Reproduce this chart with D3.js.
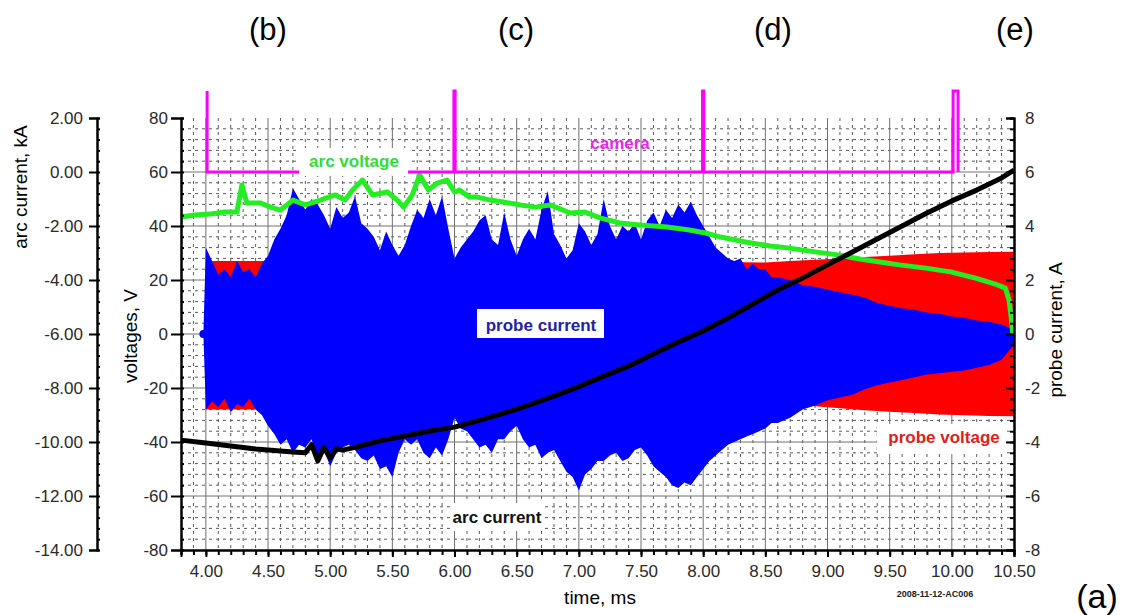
<!DOCTYPE html>
<html>
<head>
<meta charset="utf-8">
<script src="https://cdn.jsdelivr.net/npm/d3@7"></script>
<style>
  body { margin: 0; background: #fff; }
  text { font-family: "Liberation Sans", Arial, sans-serif; }
</style>
</head>
<body>
<div id="chart"></div>
<script>
// tick values
const timeTicks = [4.0, 4.5, 5.0, 5.5, 6.0, 6.5, 7.0, 7.5, 8.0, 8.5, 9.0, 9.5, 10.0, 10.5];
const voltTicks = [-80, -60, -40, -20, 0, 20, 40, 60, 80];
const arcCurTicks = [-14, -12, -10, -8, -6, -4, -2, 0, 2];
const probeTicks = [-8, -6, -4, -2, 0, 2, 4, 6, 8];
const panelLabels = ["(b)", "(c)", "(d)", "(e)"];

// probe current envelope, A (right axis)
const probeTime = [3.98,
  4.00, 4.05, 4.10, 4.15, 4.20, 4.25, 4.30, 4.35, 4.40, 4.45, 4.50, 4.55, 4.60, 4.65, 4.70, 4.75, 4.80, 4.85, 4.90, 4.95,
  5.00, 5.05, 5.10, 5.15, 5.20, 5.25, 5.30, 5.35, 5.40, 5.45, 5.50, 5.55, 5.60, 5.65, 5.70, 5.75, 5.80, 5.85, 5.90, 5.95,
  6.00, 6.05, 6.10, 6.15, 6.20, 6.25, 6.30, 6.35, 6.40, 6.45, 6.50, 6.55, 6.60, 6.65, 6.70, 6.75, 6.80, 6.85, 6.90, 6.95,
  7.00, 7.05, 7.10, 7.15, 7.20, 7.25, 7.30, 7.35, 7.40, 7.45, 7.50, 7.55, 7.60, 7.65, 7.70, 7.75, 7.80, 7.85, 7.90, 7.95,
  8.00, 8.05, 8.10, 8.15, 8.20, 8.25, 8.30, 8.35, 8.40, 8.45, 8.50, 8.55, 8.60,
  8.7, 8.8, 8.9, 9.0, 9.1, 9.2, 9.3, 9.4, 9.5, 9.6, 9.7, 9.8, 9.9, 10.0, 10.1, 10.2, 10.3, 10.4, 10.5];
const probeHigh = [0,
  3.2, 2.7, 2.2, 2.4, 2.1, 2.7, 2.3, 2.4, 2.1, 2.6, 2.9, 3.5, 3.9, 4.4, 5.4, 5.0, 4.6, 5.0, 4.8, 4.4,
  3.9, 4.7, 4.3, 4.5, 5.1, 4.1, 3.9, 3.6, 3.1, 3.8, 3.3, 2.9, 3.3, 4.0, 4.6, 4.3, 5.0, 4.4, 5.1, 3.9,
  2.8, 3.2, 3.5, 3.8, 4.2, 4.4, 3.5, 3.3, 4.5, 3.5, 2.9, 3.5, 3.9, 3.5, 4.6, 5.3, 3.7, 3.3, 2.8, 3.1,
  4.1, 3.8, 3.3, 3.7, 5.0, 4.0, 3.5, 4.0, 3.8, 4.1, 3.5, 4.2, 4.5, 4.0, 4.6, 4.3, 4.8, 4.5, 4.9, 4.4,
  4.0, 3.6, 3.2, 3.0, 2.8, 2.7, 2.8, 2.4, 2.6, 2.4, 2.4, 2.1, 2.1,
  2.0, 1.8, 1.75, 1.65, 1.55, 1.45, 1.35, 1.15, 1.05, 0.95, 0.9, 0.8, 0.75, 0.65, 0.6, 0.5, 0.45, 0.35, 0.15];
const probeLow = [0,
  -2.8, -2.5, -2.7, -2.4, -2.9, -2.6, -2.7, -2.4, -2.8, -3.0, -3.4, -3.7, -4.1, -3.9, -4.4, -4.1, -4.2, -3.9, -4.6, -4.3,
  -4.9, -4.4, -4.2, -4.1, -4.3, -4.6, -4.7, -4.5, -5.0, -4.9, -5.3, -4.4, -3.9, -4.1, -3.9, -4.4, -4.6, -4.2, -4.5, -3.9,
  -3.1, -3.5, -3.6, -3.9, -4.2, -4.1, -4.4, -3.9, -3.9, -3.6, -3.4, -3.9, -4.2, -4.1, -4.6, -4.4, -4.3, -4.7, -5.1, -5.3,
  -5.8, -5.2, -5.0, -4.7, -4.7, -4.5, -4.4, -4.7, -4.6, -4.3, -4.2, -4.5, -4.9, -5.1, -5.3, -5.6, -5.7, -5.5, -5.6, -5.3,
  -5.0, -4.7, -4.5, -4.3, -4.1, -4.0, -3.9, -3.8, -3.7, -3.6, -3.5, -3.3, -3.3,
  -3.1, -2.8, -2.65, -2.45, -2.35, -2.25, -2.05, -1.9, -1.8, -1.7, -1.6, -1.5, -1.45, -1.4, -1.35, -1.25, -1.15, -0.95, -0.4];

// probe voltage envelope, V
const pvTime = [4.0, 4.5, 5.0, 5.5, 6.0, 6.5, 7.0, 7.5, 8.0, 8.5, 8.7, 8.9, 9.1, 9.3, 9.5, 9.7, 9.9, 10.1, 10.3, 10.5];
const pvHigh = [27, 27, 27, 27, 27, 27, 27, 27, 26.8, 26.5, 27, 27.5, 28, 28.5, 29, 29.5, 30, 30.2, 30.4, 30.5];
const pvLow = [-28, -28, -28, -28, -27.5, -27, -27, -26.5, -26, -25.5, -26, -26.8, -27.5, -28.2, -28.8, -29.3, -29.8, -30.1, -30.4, -30.5];

// arc voltage, V
const avTime = [3.80, 3.91, 4.03, 4.15, 4.25, 4.29, 4.33, 4.44, 4.52, 4.60, 4.70, 4.80, 4.92, 5.04, 5.12, 5.18, 5.26, 5.34,
  5.46, 5.54, 5.59, 5.66, 5.72, 5.79, 5.86, 5.94, 6.00, 6.04, 6.12, 6.18, 6.29, 6.39, 6.53, 6.65, 6.77, 6.93, 7.05,
  7.17, 7.33, 7.49, 7.71, 7.89, 8.02, 8.14, 8.34, 8.54, 8.68, 8.86, 9.08, 9.26, 9.42, 9.58, 9.79, 9.99, 10.19,
  10.35, 10.43, 10.46, 10.48, 10.49];
const arcVolt = [43.3, 44.1, 44.4, 45.2, 45.2, 55.2, 48.5, 48.5, 47.0, 45.9, 49.6, 47.8, 49.6, 51.5, 49.6, 53.3, 57.0, 51.5,
  52.6, 49.6, 47.0, 51.5, 58.9, 53.3, 55.9, 57.0, 52.6, 53.3, 50.7, 50.7, 49.6, 48.9, 47.8, 47.0, 47.8, 44.8, 45.2,
  43.0, 41.1, 40.4, 39.6, 38.5, 37.4, 35.9, 34.1, 32.6, 31.9, 30.7, 29.3, 27.8, 26.7, 25.6, 24.4, 23.0, 20.7,
  18.5, 17.0, 12.6, 5.2, 0];

// arc current, kA
const acTime = [3.8, 4.0, 4.2, 4.4, 4.6, 4.7, 4.8, 4.85, 4.9, 4.95, 5.0, 5.05, 5.1, 5.2, 5.4, 5.6, 5.8, 6.0, 6.2, 6.4, 6.6, 6.8, 7.0,
  7.2, 7.4, 7.6, 7.8, 8.0, 8.2, 8.4, 8.6, 8.8, 9.0, 9.2, 9.4, 9.6, 9.8, 10.0, 10.2, 10.4, 10.5];
const arcCurrent = [-9.93, -10.04, -10.15, -10.26, -10.33, -10.37, -10.4, -10.1, -10.7, -10.2, -10.6, -10.25, -10.3, -10.2, -9.96, -9.78, -9.59, -9.45, -9.2, -8.93, -8.63, -8.3, -7.95,
  -7.56, -7.19, -6.74, -6.3, -5.89, -5.41, -4.89, -4.37, -3.93, -3.44, -2.96, -2.48, -2.0, -1.52, -1.07, -0.67, -0.22, 0.07];

// camera trigger, V
const camTime = [4.01, 4.01, 5.995, 5.995, 6.005, 6.005, 7.995, 7.995, 8.005, 8.005, 10.01, 10.01, 10.05, 10.05];
const camVolt = [90, 60, 60, 90, 90, 60, 60, 90, 90, 60, 60, 90, 90, 60];

const W = 1125, H = 615;
const svg = d3.select("#chart").append("svg")
  .attr("width", W).attr("height", H);

const x = d3.scaleLinear().domain([3.8, 10.5]).range([181, 1014]);
const yV = d3.scaleLinear().domain([-80, 80]).range([550, 118]);
const yA = d3.scaleLinear().domain([-8, 8]).range([550, 118]);
const yK = d3.scaleLinear().domain([-14, 2]).range([550, 118]);

const hyphen = f => d => f(d).replace("\u2212", "-");

// grid
const grid = svg.append("g");
const minorX = d3.range(39, 106).map(d => d / 10).filter(d => Math.round(d * 10) % 5 !== 0);
const minorY = d3.range(-76, 80, 4).filter(d => d % 20 !== 0);
grid.selectAll(".mx").data(minorX).enter().append("line")
  .attr("x1", d => x(d)).attr("x2", d => x(d)).attr("y1", 118).attr("y2", 550)
  .attr("stroke", "#5a5a5a").attr("stroke-width", 1).attr("stroke-dasharray", "3,4");
grid.selectAll(".my").data(minorY).enter().append("line")
  .attr("x1", 181).attr("x2", 1014).attr("y1", d => yV(d)).attr("y2", d => yV(d))
  .attr("stroke", "#5a5a5a").attr("stroke-width", 1).attr("stroke-dasharray", "3,4");
grid.selectAll(".gx").data(timeTicks.slice(0, -1)).enter().append("line")
  .attr("x1", d => x(d)).attr("x2", d => x(d)).attr("y1", 118).attr("y2", 550)
  .attr("stroke", "#707070").attr("stroke-width", 1);
grid.selectAll(".gy").data(voltTicks.slice(1, -1)).enter().append("line")
  .attr("x1", 181).attr("x2", 1014).attr("y1", d => yV(d)).attr("y2", d => yV(d))
  .attr("stroke", "#707070").attr("stroke-width", 1);

// probe voltage (red)
const pv = pvTime.map((t, i) => ({ t, hi: pvHigh[i], lo: pvLow[i] }));
svg.append("path").datum(pv)
  .attr("fill", "#ff0000")
  .attr("d", d3.area().x(d => x(d.t)).y0(d => yV(d.lo)).y1(d => yV(d.hi)));

// probe current (blue)
const pc = probeTime.map((t, i) => ({ t, hi: probeHigh[i], lo: probeLow[i] }));
svg.append("path").datum(pc)
  .attr("fill", "#0000ff")
  .attr("d", d3.area().x(d => x(d.t)).y0(d => yA(d.lo)).y1(d => yA(d.hi)));
svg.append("circle").attr("cx", x(probeTime[0])).attr("cy", yA(0)).attr("r", 4).attr("fill", "#0000ff");

// arc voltage (green)
svg.append("path").datum(avTime.map((t, i) => [t, arcVolt[i]]))
  .attr("fill", "none").attr("stroke", "#22ee22").attr("stroke-width", 5).attr("stroke-linejoin", "round")
  .attr("d", d3.line().x(d => x(d[0])).y(d => yV(d[1])));

// arc current (black)
svg.append("path").datum(acTime.map((t, i) => [t, arcCurrent[i]]))
  .attr("fill", "none").attr("stroke", "#000").attr("stroke-width", 5).attr("stroke-linejoin", "round")
  .attr("d", d3.line().x(d => x(d[0])).y(d => yK(d[1])));

// camera (magenta)
svg.append("path").datum(camTime.map((t, i) => [t, camVolt[i]]))
  .attr("fill", "none").attr("stroke", "#ff00ff").attr("stroke-width", 3)
  .attr("d", d3.line().x(d => x(d[0])).y(d => yV(d[1])));

// series labels on white boxes
function label(txt, cx, cy, color, box) {
  if (box) {
    svg.append("rect").attr("x", box[0]).attr("y", box[1]).attr("width", box[2]).attr("height", box[3]).attr("fill", "#fff");
  }
  svg.append("text").attr("x", cx).attr("y", cy).attr("text-anchor", "middle")
    .attr("font-size", 17).attr("font-weight", "bold").attr("fill", color).text(txt);
}
label("arc voltage", 354, 167, "#33dd33", [299, 148, 109, 28]);
label("camera", 620, 149, "#ee22ee", null);
label("probe current", 541, 331, "#2222aa", [477, 309, 127, 29]);
label("probe voltage", 944, 443, "#e02020", [877, 424, 130, 30]);
label("arc current", 497, 523, "#111", [450, 503, 94, 28]);

// axes
function styleAxis(g) {
  g.select(".domain").attr("stroke", "#000").attr("stroke-width", 2);
  g.selectAll(".tick line").attr("stroke", "#000").attr("stroke-width", 2);
  g.selectAll("text").attr("font-size", 17).attr("fill", "#2a2a2a")
    .attr("font-family", "Liberation Sans, Arial, sans-serif");
}
const minorV = d3.range(-80, 81, 4);
const minorT = d3.range(38, 106).map(d => d / 10);

// x axis
svg.append("g").attr("transform", "translate(0,550)")
  .call(d3.axisBottom(x).tickValues(minorT).tickSize(5).tickFormat(""))
  .call(styleAxis);
svg.append("g").attr("transform", "translate(0,550)")
  .call(d3.axisBottom(x).tickValues(timeTicks).tickSize(7).tickPadding(8).tickFormat(hyphen(d3.format(".2f"))))
  .call(styleAxis);

// voltages axis
svg.append("g").attr("transform", "translate(181,0)")
  .call(d3.axisLeft(yV).tickValues(minorV).tickSize(-3).tickFormat(""))
  .call(styleAxis);
svg.append("g").attr("transform", "translate(181,0)")
  .call(d3.axisLeft(yV).tickValues(voltTicks).tickSize(10).tickPadding(3).tickFormat(d => String(d)))
  .call(styleAxis);

// arc current axis
svg.append("g").attr("transform", "translate(97,0)")
  .call(d3.axisLeft(yK).tickValues(d3.range(-14, 2.01, 0.4)).tickSize(-3).tickFormat(""))
  .call(styleAxis);
svg.append("g").attr("transform", "translate(97,0)")
  .call(d3.axisLeft(yK).tickValues(arcCurTicks).tickSize(8).tickPadding(6).tickFormat(hyphen(d3.format(".2f"))))
  .call(styleAxis);

// probe current axis
svg.append("g").attr("transform", "translate(1014,0)")
  .call(d3.axisRight(yA).tickValues(d3.range(-8, 8.01, 0.4)).tickSize(-4).tickFormat(""))
  .call(styleAxis);
svg.append("g").attr("transform", "translate(1014,0)")
  .call(d3.axisRight(yA).tickValues(probeTicks).tickSize(-8).tickPadding(11).tickFormat(d => String(d)))
  .call(styleAxis);

// axis titles
function title(txt, cx, cy, rot) {
  svg.append("text").attr("transform", `translate(${cx},${cy}) rotate(${rot})`)
    .attr("text-anchor", "middle").attr("dy", "0.35em")
    .attr("font-size", 19).attr("fill", "#000").text(txt);
}
title("arc current, kA", 20, 187, -90);
title("voltages, V", 130, 336, -90);
title("probe current, A", 1055, 330, -90);
title("time, ms", 600, 597, 0);

svg.append("text").attr("x", 935).attr("y", 597).attr("text-anchor", "middle")
  .attr("font-size", 9).attr("font-weight", "bold").attr("fill", "#222").text("2008-11-12-AC006");

svg.append("text").attr("x", 1097).attr("y", 608).attr("text-anchor", "middle")
  .attr("font-size", 34).attr("fill", "#000").text("(a)");

// panel labels above
const panelX = [268, 516, 773, 1015];
svg.selectAll(".panel").data(panelLabels).enter().append("text")
  .attr("x", (d, i) => panelX[i]).attr("y", 40).attr("text-anchor", "middle")
  .attr("font-family", "Liberation Serif, Times New Roman, serif")
  .attr("font-size", 31).attr("fill", "#000").text(d => d);
</script>
</body>
</html>
